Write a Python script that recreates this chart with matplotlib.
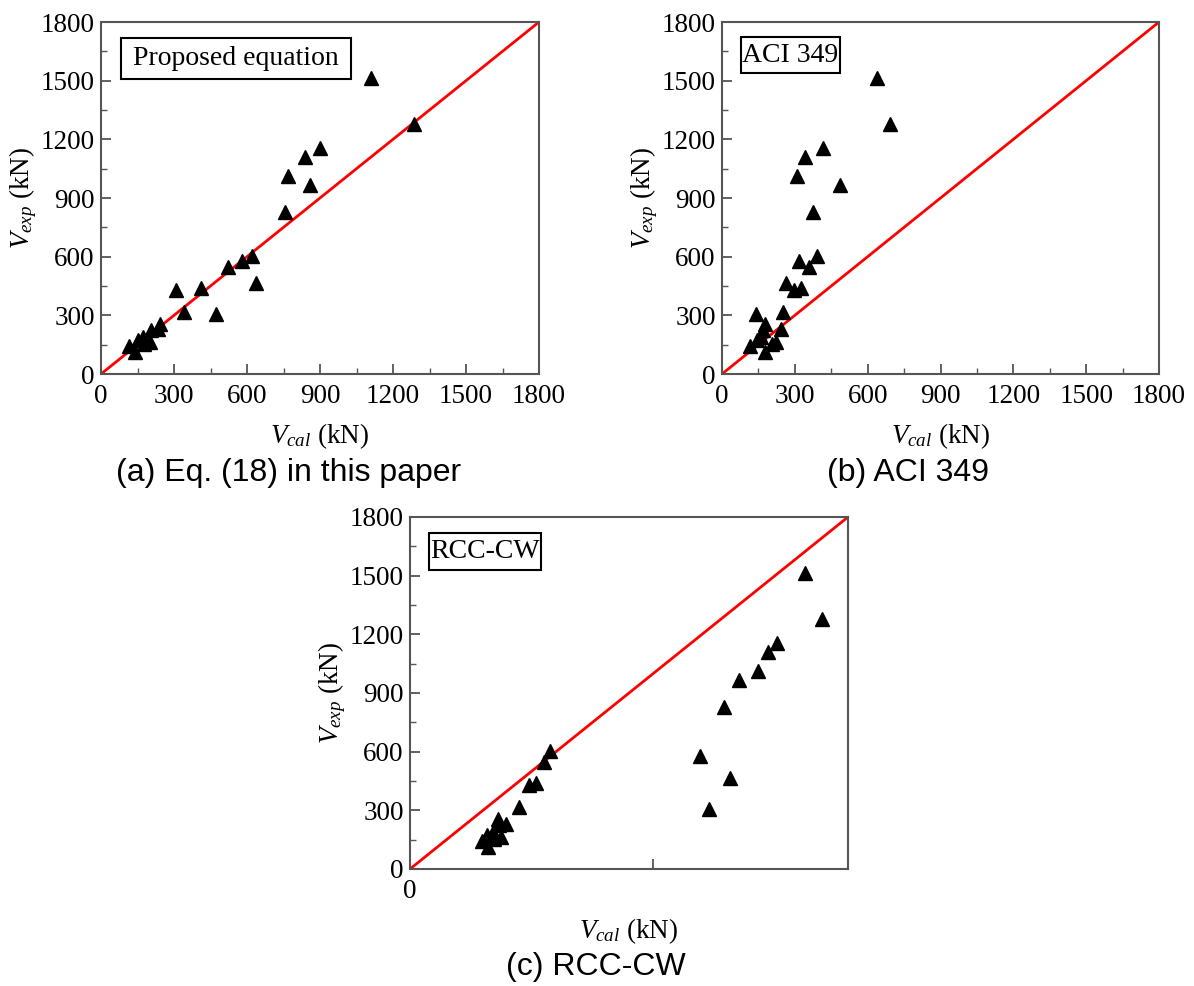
import matplotlib
matplotlib.use("Agg")
import matplotlib.pyplot as plt
from matplotlib.patches import Rectangle
from matplotlib.ticker import MultipleLocator, FixedLocator, NullLocator

plt.rcParams['font.family'] = ['Liberation Serif', 'DejaVu Serif']
plt.rcParams['mathtext.fontset'] = 'custom'
plt.rcParams['mathtext.rm'] = 'Liberation Serif'
plt.rcParams['mathtext.it'] = 'Liberation Serif:italic'

# experimental shear capacity (kN)
v_exp = [1512, 1280, 1158, 1110, 1013, 965, 829, 605, 576, 547, 465, 432,
         441, 319, 308, 256, 231, 227, 188, 174, 162, 154, 145, 114]
# calculated capacities (kN)
v_prop = [1110, 1285, 901, 837, 769, 860, 755, 619, 581, 523, 636, 307,
          413, 343, 473, 242, 234, 205, 172, 150, 200, 178, 116, 138]
v_aci = [637, 694, 416, 342, 307, 484, 376, 390, 316, 360, 265, 298,
         327, 250, 141, 177, 244, 167, 161, 144, 222, 204, 115, 178]
v_rcc = [1625, 1693, 1508, 1470, 1431, 1353, 1292, 574, 1192, 550, 1314, 487,
         517, 447, 1227, 363, 395, 367, 341, 315, 374, 345, 294, 321]

ticks = [0, 300, 600, 900, 1200, 1500, 1800]
lim = 1800

fig = plt.figure(figsize=(11.94, 9.86), dpi=100)

def make_panel(rect, xcal, boxtext, box, caption, cap_xy, full_xaxis=True):
    ax = fig.add_axes(rect)
    ax.plot([0, lim], [0, lim], color='red', lw=2.0, zorder=2)
    ax.plot(xcal, v_exp, linestyle='none', marker='^', ms=9.5, color='black', zorder=3)
    ax.set_xlim(0, lim)
    ax.set_ylim(0, lim)
    ax.yaxis.set_major_locator(FixedLocator(ticks))
    ax.yaxis.set_minor_locator(MultipleLocator(150))
    if full_xaxis:
        ax.xaxis.set_major_locator(FixedLocator(ticks))
        ax.xaxis.set_minor_locator(MultipleLocator(150))
    else:
        # only the origin is labelled on this panel
        ax.xaxis.set_major_locator(FixedLocator([0, 1000]))
        ax.set_xticklabels(['0', ''])
        ax.xaxis.set_minor_locator(NullLocator())
    for sp in ax.spines.values():
        sp.set_color('#555555')
        sp.set_linewidth(1.5)
    ax.tick_params(which='both', direction='in', color='#555555', labelsize=19.5,
                   top=False, right=False)
    ax.tick_params(which='major', length=7, width=1.3)
    ax.tick_params(axis='x', which='major', pad=7)
    ax.tick_params(axis='y', which='major', pad=4.5)
    ax.tick_params(which='minor', length=4, width=1.0)
    ax.set_xlabel(r'$V_{cal}$ (kN)', fontsize=19.5, labelpad=9)
    ax.set_ylabel(r'$V_{exp}$ (kN)', fontsize=19.5, labelpad=1)
    x0, y0, x1, y1 = box
    ax.add_patch(Rectangle((x0, y0), x1 - x0, y1 - y0, transform=ax.transAxes,
                           fc='white', ec='black', lw=1.5, zorder=4))
    ax.text((x0 + x1) / 2, (y0 + y1) / 2, boxtext, transform=ax.transAxes,
            fontsize=20, va='center', ha='center', zorder=5)
    fig.text(cap_xy[0], cap_xy[1], caption, ha='center', va='center',
             fontsize=23, family='Liberation Sans')
    return ax

W, H = 1194, 986
make_panel([101 / W, 1 - 374 / H, 438 / W, 352 / H], v_prop, 'Proposed equation',
           (0.046, 0.838, 0.571, 0.955),
           '(a) Eq. (18) in this paper', (289 / W, 1 - 473 / H))
make_panel([722 / W, 1 - 374 / H, 437 / W, 352 / H], v_aci, 'ACI 349',
           (0.043, 0.855, 0.270, 0.957),
           '(b) ACI 349', (908 / W, 1 - 473 / H))
make_panel([410 / W, 1 - 869 / H, 438 / W, 352 / H], v_rcc, 'RCC-CW',
           (0.043, 0.849, 0.299, 0.955),
           '(c) RCC-CW', (596 / W, 1 - 967 / H), full_xaxis=False)

fig.savefig('out.png', dpi=100)
